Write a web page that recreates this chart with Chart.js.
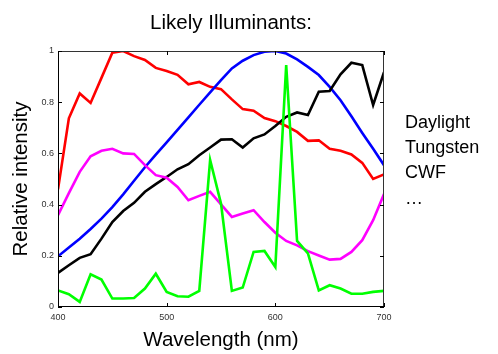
<!DOCTYPE html>
<html>
<head>
<meta charset="utf-8">
<script src="https://cdn.jsdelivr.net/npm/chart.js@4"></script>
<style>
  html, body { margin: 0; padding: 0; background: #fff; }
  #wrap { position: relative; width: 498px; height: 354px; font-family: "Liberation Sans", Arial, sans-serif; color: #000; }
  #c { position: absolute; left: 0; top: 0; }
  .lbl { position: absolute; font-size: 18px; line-height: 1; white-space: nowrap; }
  #title { position: absolute; top: 12px; left: 131px; width: 200px; text-align: center; font-size: 20.5px; line-height: 1; white-space: nowrap; }
</style>
</head>
<body>
<div id="wrap">
  <canvas id="c" width="498" height="354"></canvas>
  <div id="title">Likely Illuminants:</div>
  <div class="lbl" style="left:405px; top:113px;">Daylight</div>
  <div class="lbl" style="left:405px; top:138px;">Tungsten</div>
  <div class="lbl" style="left:405px; top:163px;">CWF</div>
  <div class="lbl" style="left:405px; top:189px;">…</div>
</div>
<script>
const wavelengths = [400,410,420,430,440,450,460,470,480,490,500,510,520,530,540,550,560,570,580,590,600,610,620,630,640,650,660,670,680,690,700];
const redSeries = [0.460,0.737,0.834,0.797,0.895,0.993,1.000,0.980,0.965,0.934,0.922,0.907,0.870,0.879,0.860,0.851,0.811,0.773,0.767,0.738,0.726,0.707,0.684,0.649,0.651,0.618,0.610,0.596,0.563,0.500,0.518];
const blueSeries = [0.198,0.232,0.267,0.305,0.345,0.390,0.440,0.493,0.546,0.595,0.643,0.692,0.741,0.790,0.838,0.886,0.932,0.962,0.984,0.997,1.000,0.990,0.967,0.938,0.906,0.860,0.808,0.745,0.680,0.618,0.554];
const blackSeries = [0.133,0.163,0.192,0.206,0.267,0.332,0.375,0.407,0.450,0.480,0.508,0.538,0.558,0.593,0.623,0.654,0.655,0.623,0.659,0.674,0.707,0.743,0.760,0.750,0.841,0.844,0.909,0.954,0.945,0.789,0.917];
const magentaSeries = [0.359,0.445,0.528,0.589,0.610,0.618,0.600,0.598,0.554,0.515,0.505,0.469,0.417,0.434,0.450,0.401,0.352,0.365,0.378,0.332,0.290,0.258,0.241,0.218,0.201,0.185,0.188,0.215,0.261,0.339,0.441];
const greenSeries = [0.065,0.050,0.020,0.128,0.107,0.033,0.033,0.035,0.072,0.130,0.059,0.042,0.040,0.063,0.574,0.404,0.063,0.076,0.215,0.219,0.156,0.945,0.258,0.209,0.065,0.085,0.072,0.052,0.052,0.059,0.063];
const xTicks = [400,500,600,700];
const yTicks = [0,0.2,0.4,0.6,0.8,1];

function pts(arr) { return wavelengths.map((w, i) => ({x: w, y: arr[i]})); }
function ds(arr, color) {
  return { data: pts(arr), borderColor: color, borderWidth: 2.6, pointRadius: 0, tension: 0, fill: false };
}

const boxTicks = {
  id: 'boxTicks',
  afterDatasetsDraw(chart) {
    const ctx = chart.ctx, a = chart.chartArea;
    const xs = chart.scales.x, ys = chart.scales.y;
    ctx.save();
    ctx.lineWidth = 1;
    ctx.strokeStyle = '#333';
    ctx.beginPath();
    ctx.moveTo(a.left + 0.5, a.top + 0.5);
    ctx.lineTo(a.right - 0.5, a.top + 0.5);
    ctx.lineTo(a.right - 0.5, a.bottom - 0.5);
    ctx.stroke();
    ctx.strokeStyle = '#000';
    ctx.beginPath();
    ctx.moveTo(a.left + 0.5, a.top);
    ctx.lineTo(a.left + 0.5, a.bottom - 0.5);
    ctx.lineTo(a.right, a.bottom - 0.5);
    ctx.stroke();
    const L = 4;
    ctx.beginPath();
    xTicks.forEach(v => {
      const px = Math.round(xs.getPixelForValue(v)) + 0.5;
      ctx.moveTo(px, a.bottom); ctx.lineTo(px, a.bottom - L);
      ctx.moveTo(px, a.top); ctx.lineTo(px, a.top + L);
    });
    yTicks.forEach(v => {
      const py = Math.round(ys.getPixelForValue(v)) + 0.5;
      ctx.moveTo(a.left, py); ctx.lineTo(a.left + L, py);
      ctx.moveTo(a.right, py); ctx.lineTo(a.right - L, py);
    });
    ctx.stroke();
    ctx.restore();
  }
};

new Chart(document.getElementById('c'), {
  type: 'line',
  data: {
    datasets: [
      ds(greenSeries, '#00ff00'),
      ds(magentaSeries, '#ff00ff'),
      ds(blackSeries, '#000000'),
      ds(blueSeries, '#0000ff'),
      ds(redSeries, '#ff0000')
    ]
  },
  options: {
    responsive: false,
    animation: false,
    devicePixelRatio: 1,
    layout: { padding: { top: 51, right: 114, left: 0, bottom: 0 } },
    plugins: { legend: { display: false }, tooltip: { enabled: false }, title: { display: false } },
    scales: {
      x: {
        type: 'linear', min: 400, max: 700,
        afterFit(s) { s.height = 47; },
        afterBuildTicks(s) { s.ticks = xTicks.map(v => ({value: v})); },
        grid: { display: false, drawTicks: false },
        border: { display: false },
        ticks: { padding: 5, color: '#333', font: { family: '"Liberation Sans", Arial, sans-serif', size: 9 }, maxRotation: 0, autoSkip: false },
        title: { display: true, text: 'Wavelength (nm)', color: '#000', padding: { top: 0, bottom: 1 }, font: { family: '"Liberation Sans", Arial, sans-serif', size: 20.5 } }
      },
      y: {
        type: 'linear', min: 0, max: 1,
        afterFit(s) { s.width = 58; },
        afterBuildTicks(s) { s.ticks = yTicks.map(v => ({value: v})); },
        grid: { display: false, drawTicks: false },
        border: { display: false },
        ticks: { padding: 4, color: '#333', font: { family: '"Liberation Sans", Arial, sans-serif', size: 9 }, autoSkip: false,
          callback: v => String(v) },
        title: { display: true, text: 'Relative intensity', color: '#000', padding: { top: 9, bottom: 0 }, font: { family: '"Liberation Sans", Arial, sans-serif', size: 20.5 } }
      }
    }
  },
  plugins: [boxTicks]
});
</script>
</body>
</html>
